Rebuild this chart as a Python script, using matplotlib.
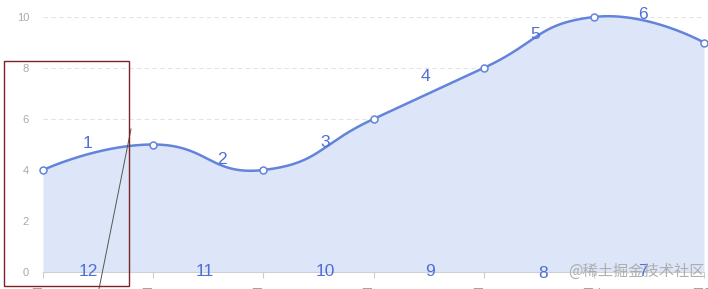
import numpy as np
import matplotlib
matplotlib.use("Agg")
import matplotlib.pyplot as plt
from matplotlib.patches import Rectangle
from matplotlib.lines import Line2D

days = ["周一", "周二", "周三", "周四", "周五", "周六", "周日"]
values = [4, 5, 4, 6, 8, 10, 9]
yticks = [0, 2, 4, 6, 8, 10]

# number labels (text, x, y) in data coords
label_text = ["1", "2", "3", "4", "5", "6", "7", "8", "9", "10", "11", "12"]
label_x = [0.40, 1.62, 2.56, 3.47, 4.47, 5.45, 5.45, 4.54, 3.51, 2.56, 1.47, 0.41]
label_y = [5.02, 4.43, 5.06, 7.65, 9.33, 10.1, 0.0, -0.05, 0.0, 0.0, 0.0, 0.0]

LINE = "#6384da"
FILL = "#dde5f8"
TXT = "#4f6fd6"

plt.rcParams['font.family'] = ['Liberation Sans', 'Noto Sans CJK SC', 'DejaVu Sans']

W, H = 708, 289
fig = plt.figure(figsize=(W / 100, H / 100), dpi=100)
ax = fig.add_axes([43 / W, 1 - 272 / H, (704 - 43) / W, (272 - 17) / H])

x = np.arange(len(values), dtype=float)
y = np.array(values, dtype=float)

# echarts-like smoothing (control points computed in pixel-ish space)
sx, sy = 110.0, 25.5
px, py = x * sx, y * sy
smooth = 0.5
n = len(px)
cp0 = np.zeros((n, 2))
cp1 = np.zeros((n, 2))
for i in range(n):
    if i == 0 or i == n - 1:
        cp0[i] = cp1[i] = (px[i], py[i])
        continue
    vx, vy = px[i + 1] - px[i - 1], py[i + 1] - py[i - 1]
    d0 = np.hypot(px[i] - px[i - 1], py[i] - py[i - 1])
    d1 = np.hypot(px[i + 1] - px[i], py[i + 1] - py[i])
    r = d1 / (d0 + d1)
    cp0[i] = (px[i] - vx * smooth * (1 - r), py[i] - vy * smooth * (1 - r))
    cp1[i] = (px[i] + vx * smooth * r, py[i] + vy * smooth * r)

t = np.linspace(0, 1, 60)[:, None]
segs = []
for i in range(n - 1):
    p0 = np.array([px[i], py[i]])
    p3 = np.array([px[i + 1], py[i + 1]])
    c1, c2 = cp1[i], cp0[i + 1]
    b = (1 - t) ** 3 * p0 + 3 * (1 - t) ** 2 * t * c1 + 3 * (1 - t) * t ** 2 * c2 + t ** 3 * p3
    segs.append(b if i == 0 else b[1:])
curve = np.vstack(segs)
cx, cy = curve[:, 0] / sx, curve[:, 1] / sy

ax.fill_between(cx, 0, cy, color=FILL, lw=0, zorder=1)
ax.plot(cx, cy, color=LINE, lw=1.8, zorder=3, clip_on=False)
ax.plot(x, y, "o", ms=5, mfc="white", mec=LINE, mew=1.1, zorder=4, clip_on=False)

for s, lx, ly in zip(label_text, label_x, label_y):
    ax.text(lx, ly, s, color=TXT, fontsize=12.5, ha="center", va="center", zorder=5, clip_on=False)

ax.set_xlim(0, 6)
ax.set_ylim(0, 10)
ax.set_yticks(yticks)
ax.set_xticks(x)
ax.set_xticklabels(days, fontsize=9, color="#999999", family=['Noto Sans CJK SC', 'DejaVu Sans'])
ax.tick_params(axis="x", length=4, color="#cccccc", pad=7.5)
ax.tick_params(axis="y", length=0, labelsize=8, labelcolor="#aaaaaa", pad=10)
ax.grid(axis="y", color="#e3e3e3", ls=(0, (4, 3)), lw=0.8)
ax.set_axisbelow(True)
for s in ["top", "right", "left"]:
    ax.spines[s].set_visible(False)
ax.spines["bottom"].set_color("#d0d0d0")

# red box and gray pointer line (figure pixels)
fig.patches.append(Rectangle((4 / W, 1 - 286 / H), 125 / W, 225 / H, transform=fig.transFigure,
                             fill=False, ec="#7b2326", lw=1, zorder=10))
fig.lines.append(Line2D([131 / W, 99 / W], [1 - 129 / H, 1 - 289 / H], transform=fig.transFigure,
                        color="#555555", lw=0.7, zorder=10))

fig.text(705 / W, 1 - 271 / H, "@稀土掘金技术社区", ha="right", va="center", fontsize=11,
         color="#a8a8a8", family=['Noto Sans CJK SC', 'DejaVu Sans'], alpha=0.9)

fig.savefig("out.png", dpi=100)
